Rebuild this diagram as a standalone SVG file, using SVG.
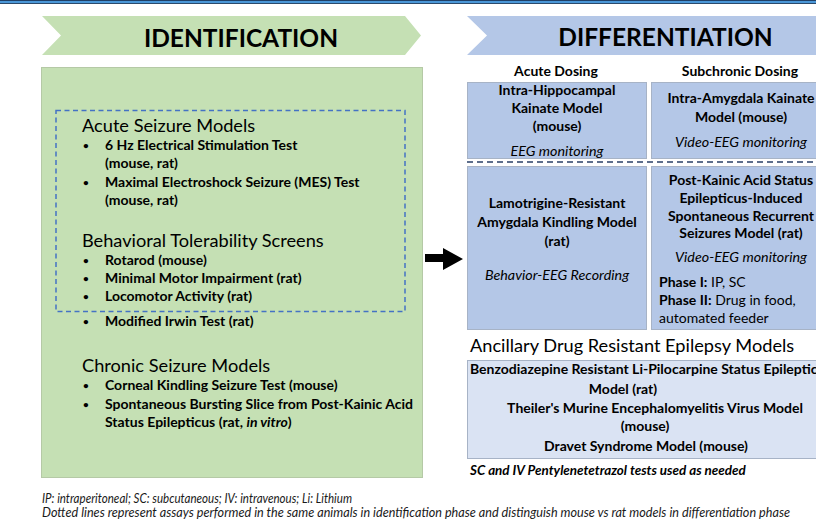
<svg xmlns="http://www.w3.org/2000/svg" width="816" height="519" viewBox="0 0 816 519">
<style>
text{font-family:Lato,"Open Sans","Liberation Sans",sans-serif;fill:#000}
.h1{font-size:24.5px;font-weight:bold;text-anchor:middle}
.hd{font-size:18.2px}
.c{text-anchor:middle}
.b{font-size:14px;font-weight:bold}
.bl{font-size:10px;font-weight:bold}
.i{font-size:14.3px;font-style:italic}
.n{font-size:14px}
.ft{font-size:12.6px;font-style:italic;fill:#1a1a1a}
.green{fill:#c5e0b4}
.blue{fill:#b4c7e7;stroke:#a7b3c6;stroke-width:1}
</style>
<rect x="0" y="0" width="816" height="1" fill="#1f3f66"/>
<rect x="0" y="1" width="816" height="2" fill="#4a97d8"/>
<rect x="0" y="3" width="816" height="1" fill="#2b4a6b"/>

<g id="identification-header">
<polygon class="green" points="42,16 405,16 421,35.5 405,55 42,55 61,35.5"/>
<text class="h1" x="241" y="47">IDENTIFICATION</text>
</g>
<g id="differentiation-header">
<polygon points="467,16 830,16 830,55 467,55 487,35.5" fill="#b4c7e7"/>
<text class="h1" x="665.5" y="46">DIFFERENTIATION</text>
</g>

<g id="identification-box">
<rect x="41.5" y="67.5" width="381" height="410" fill="#c5e0b4" stroke="#b5c9a6" stroke-width="1"/>
<rect x="56" y="110.5" width="349" height="201" fill="none" stroke="#4472c4" stroke-width="1.5" stroke-dasharray="5 3.5"/>
<text class="hd" x="82" y="132">Acute Seizure Models</text>
<text class="bl" x="83" y="149">•</text><text class="b" x="105" y="150">6 Hz Electrical Stimulation Test</text>
<text class="b" x="105" y="168">(mouse, rat)</text>
<text class="bl" x="83" y="186">•</text><text class="b" x="105" y="187">Maximal Electroshock Seizure (MES) Test</text>
<text class="b" x="105" y="205">(mouse, rat)</text>
<text class="hd" x="82" y="247">Behavioral Tolerability Screens</text>
<text class="bl" x="83" y="264">•</text><text class="b" x="105" y="265">Rotarod (mouse)</text>
<text class="bl" x="83" y="282">•</text><text class="b" x="105" y="283">Minimal Motor Impairment (rat)</text>
<text class="bl" x="83" y="300">•</text><text class="b" x="105" y="301">Locomotor Activity (rat)</text>
<text class="bl" x="83" y="325">•</text><text class="b" x="105" y="326">Modified Irwin Test (rat)</text>
<text class="hd" x="82" y="372">Chronic Seizure Models</text>
<text class="bl" x="83" y="389">•</text><text class="b" x="105" y="390">Corneal Kindling Seizure Test (mouse)</text>
<text class="bl" x="83" y="408">•</text><text class="b" x="105" y="409">Spontaneous Bursting Slice from Post-Kainic Acid</text>
<text class="b" x="105" y="427">Status Epilepticus (rat, <tspan font-style="italic">in vitro</tspan>)</text>
</g>

<g id="connectors">
<polygon points="425,254 443,254 443,248 463,259 443,270 443,262 425,262" fill="#000"/>
<line x1="467" y1="162" x2="816" y2="162" stroke="#5d6e8c" stroke-width="2" stroke-dasharray="6 4"/>
</g>

<g id="column-labels">
<text class="b c" x="556" y="76">Acute Dosing</text>
<text class="b c" x="740" y="76">Subchronic Dosing</text>
</g>

<g id="intra-hippocampal">
<rect class="blue" x="467.5" y="82.5" width="179" height="76"/>
<text class="b c" x="557" y="95">Intra-Hippocampal</text>
<text class="b c" x="557" y="113">Kainate Model</text>
<text class="b c" x="557" y="131">(mouse)</text>
<text class="i c" x="557" y="156">EEG monitoring</text>
</g>
<g id="intra-amygdala">
<rect class="blue" x="651.5" y="82.5" width="180" height="76"/>
<text class="b c" x="741" y="103">Intra-Amygdala Kainate</text>
<text class="b c" x="741" y="122">Model (mouse)</text>
<text class="i c" x="741" y="147">Video-EEG monitoring</text>
</g>
<g id="lamotrigine">
<rect class="blue" x="467.5" y="166.5" width="179" height="163"/>
<text class="b c" x="557" y="208">Lamotrigine-Resistant</text>
<text class="b c" x="557" y="227">Amygdala Kindling Model</text>
<text class="b c" x="557" y="246">(rat)</text>
<text class="i c" x="557" y="280">Behavior-EEG Recording</text>
</g>
<g id="post-kainic">
<rect class="blue" x="651.5" y="166.5" width="180" height="163"/>
<text class="b c" x="741" y="185">Post-Kainic Acid Status</text>
<text class="b c" x="741" y="203">Epilepticus-Induced</text>
<text class="b c" x="741" y="221">Spontaneous Recurrent</text>
<text class="b c" x="741" y="238">Seizures Model (rat)</text>
<text class="i c" x="741" y="262">Video-EEG monitoring</text>
<text class="n" x="659" y="287"><tspan font-weight="bold">Phase I:</tspan> IP, SC</text>
<text class="n" x="659" y="305"><tspan font-weight="bold">Phase II:</tspan> Drug in food,</text>
<text class="n" x="659" y="323">automated feeder</text>
</g>

<g id="ancillary">
<text class="hd" x="470" y="352">Ancillary Drug Resistant Epilepsy Models</text>
<rect x="467.5" y="360.5" width="370" height="98" fill="#dae3f3" stroke="#a7b3c6" stroke-width="1"/>
<text class="b" x="470" y="374">Benzodiazepine Resistant Li-Pilocarpine Status Epilepticus</text>
<text class="b c" x="623" y="394">Model (rat)</text>
<text class="b c" x="655" y="413">Theiler's Murine Encephalomyelitis Virus Model</text>
<text class="b c" x="645" y="431">(mouse)</text>
<text class="b c" x="646" y="451">Dravet Syndrome Model (mouse)</text>
<text x="470" y="475" font-size="13.4" font-weight="bold" font-style="italic">SC and IV Pentylenetetrazol tests used as needed</text>
</g>

<g id="footnotes">
<text class="ft" x="42" y="503" textLength="310" lengthAdjust="spacingAndGlyphs">IP: intraperitoneal; SC: subcutaneous; IV: intravenous; Li: Lithium</text>
<text class="ft" x="42" y="517" textLength="748" lengthAdjust="spacingAndGlyphs">Dotted lines represent assays performed in the same animals in identification phase and distinguish mouse vs rat models in differentiation phase</text>
</g>
</svg>
